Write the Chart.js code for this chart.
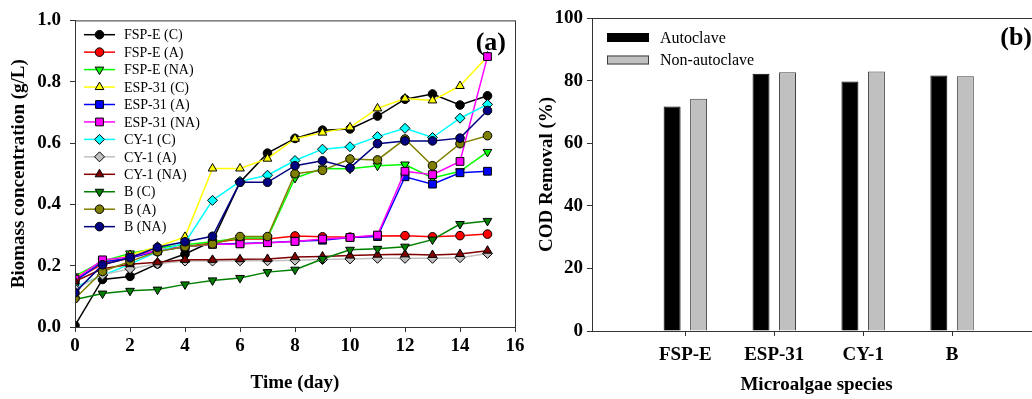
<!DOCTYPE html>
<html>
<head>
<meta charset="utf-8">
<script src="https://cdn.jsdelivr.net/npm/chart.js@4/dist/chart.umd.min.js"></script>
<style>
  html, body { margin: 0; padding: 0; background: #fff; overflow: hidden; }
  body { width: 1032px; height: 399px; position: relative; }
  #growth { position: absolute; left: 0; top: 0; }
  #cod { position: absolute; left: 530px; top: 0; }
</style>
</head>
<body>
<canvas id="growth" width="540" height="399"></canvas>
<canvas id="cod" width="520" height="399"></canvas>
<script>
// ---- data ----
var days = [0, 1, 2, 3, 4, 5, 6, 7, 8, 9, 10, 11, 12, 13, 14, 15];

var fspeC   = [0.005, 0.155, 0.165, 0.206, 0.238, 0.28, 0.472, 0.567, 0.615, 0.642, 0.646, 0.688, 0.743, 0.76, 0.724, 0.754];
var fspeA   = [0.155, 0.205, 0.225, 0.25, 0.262, 0.275, 0.287, 0.287, 0.297, 0.294, 0.293, 0.297, 0.298, 0.294, 0.298, 0.303];
var fspeNA  = [0.165, 0.215, 0.24, 0.258, 0.268, 0.278, 0.29, 0.29, 0.486, 0.517, 0.516, 0.526, 0.53, 0.486, 0.508, 0.571];
var esp31C  = [0.162, 0.21, 0.235, 0.262, 0.294, 0.517, 0.517, 0.549, 0.614, 0.634, 0.651, 0.713, 0.745, 0.739, 0.786, 0.882];
var esp31A  = [0.15, 0.212, 0.225, 0.248, 0.262, 0.27, 0.272, 0.275, 0.28, 0.283, 0.292, 0.295, 0.49, 0.466, 0.503, 0.508];
var esp31NA = [0.156, 0.219, 0.228, 0.25, 0.262, 0.27, 0.271, 0.275, 0.279, 0.287, 0.292, 0.3, 0.508, 0.497, 0.54, 0.882];
var cy1C    = [0.13, 0.168, 0.205, 0.245, 0.275, 0.413, 0.475, 0.495, 0.543, 0.58, 0.588, 0.621, 0.648, 0.618, 0.681, 0.726];
var cy1A    = [0.125, 0.17, 0.19, 0.206, 0.215, 0.215, 0.216, 0.216, 0.218, 0.22, 0.222, 0.224, 0.224, 0.224, 0.226, 0.24];
var cy1NA   = [0.149, 0.19, 0.205, 0.211, 0.219, 0.219, 0.221, 0.222, 0.228, 0.23, 0.233, 0.236, 0.237, 0.235, 0.238, 0.249];
var bC      = [0.09, 0.109, 0.118, 0.122, 0.139, 0.152, 0.16, 0.179, 0.187, 0.222, 0.252, 0.255, 0.262, 0.285, 0.336, 0.346];
var bA      = [0.093, 0.181, 0.214, 0.246, 0.262, 0.271, 0.295, 0.295, 0.5, 0.511, 0.548, 0.545, 0.613, 0.526, 0.598, 0.624];
var bNA     = [0.112, 0.203, 0.226, 0.26, 0.278, 0.296, 0.472, 0.472, 0.526, 0.542, 0.519, 0.598, 0.607, 0.607, 0.616, 0.706];

var xTicks = [0, 2, 4, 6, 8, 10, 12, 14, 16];
var yTicks = [0, 0.2, 0.4, 0.6, 0.8, 1.0];

var species = ['FSP-E', 'ESP-31', 'CY-1', 'B'];
var autoclave = [71.7, 82.2, 79.7, 81.6];
var nonAutoclave = [74.2, 82.7, 82.9, 81.4];
var codTicks = [0, 20, 40, 60, 80, 100];

// ---- look ----
var serif = '"Liberation Serif", "Times New Roman", serif';
Chart.defaults.font.family = serif;
Chart.defaults.color = '#000';
var axisColor = '#333';
var tickFont = { size: 19, weight: 'bold' };
var titleFont = { size: 19, weight: 'bold' };

var series = [
  { label: 'FSP-E (C)',   data: fspeC,   color: '#000000', style: 'circle',   rot: 0,   r: 4.3 },
  { label: 'FSP-E (A)',   data: fspeA,   color: '#ff0000', style: 'circle',   rot: 0,   r: 4.3 },
  { label: 'FSP-E (NA)',  data: fspeNA,  color: '#00ff00', style: 'triangle', rot: 180, r: 5 },
  { label: 'ESP-31 (C)',  data: esp31C,  color: '#ffff00', style: 'triangle', rot: 0,   r: 5 },
  { label: 'ESP-31 (A)',  data: esp31A,  color: '#0000ff', style: 'rect',     rot: 0,   r: 5.5 },
  { label: 'ESP-31 (NA)', data: esp31NA, color: '#ff00ff', style: 'rect',     rot: 0,   r: 5.5 },
  { label: 'CY-1 (C)',    data: cy1C,    color: '#00ffff', style: 'rectRot',  rot: 0,   r: 5 },
  { label: 'CY-1 (A)',    data: cy1A,    color: '#c0c0c0', style: 'rectRot',  rot: 0,   r: 5 },
  { label: 'CY-1 (NA)',   data: cy1NA,   color: '#800000', style: 'triangle', rot: 0,   r: 5 },
  { label: 'B (C)',       data: bC,      color: '#008000', style: 'triangle', rot: 180, r: 5 },
  { label: 'B (A)',       data: bA,      color: '#808000', style: 'circle',   rot: 0,   r: 4.3 },
  { label: 'B (NA)',      data: bNA,     color: '#000080', style: 'circle',   rot: 0,   r: 4.3 }
];

function drawMarker(ctx, s, x, y) {
  ctx.fillStyle = s.color;
  ctx.strokeStyle = '#000';
  ctx.lineWidth = 1;
  if (Chart.helpers && Chart.helpers.drawPoint) {
    Chart.helpers.drawPoint(ctx, { pointStyle: s.style, rotation: s.rot, radius: s.r, borderWidth: 1 }, x, y);
  } else {
    ctx.beginPath();
    ctx.arc(x, y, s.r, 0, Math.PI * 2);
    ctx.fill();
    ctx.stroke();
  }
}

// frame round the plot area
var framePlugin = {
  id: 'frame',
  afterDraw: function (chart) {
    var a = chart.chartArea, ctx = chart.ctx;
    ctx.save();
    ctx.strokeStyle = axisColor;
    ctx.lineWidth = 1;
    ctx.strokeRect(a.left + 0.5, a.top + 0.5, a.right - a.left, a.bottom - a.top);
    ctx.restore();
  }
};

// (a) / (b)
var panelLabel = {
  id: 'panelLabel',
  afterDraw: function (chart, args, opts) {
    var a = chart.chartArea, ctx = chart.ctx;
    ctx.save();
    ctx.font = 'bold 26px ' + serif;
    ctx.fillStyle = '#000';
    ctx.textAlign = 'right';
    ctx.textBaseline = 'middle';
    ctx.fillText(opts.text, a.right - 9, a.top + opts.dy);
    ctx.restore();
  }
};

// legend with line + marker inside the plot
var lineLegend = {
  id: 'lineLegend',
  afterDraw: function (chart) {
    var a = chart.chartArea, ctx = chart.ctx;
    ctx.save();
    series.forEach(function (s, i) {
      var y = a.top + 14.3 + i * 17.45;
      ctx.strokeStyle = s.color;
      ctx.lineWidth = 1.5;
      ctx.beginPath();
      ctx.moveTo(a.left + 9, y);
      ctx.lineTo(a.left + 40, y);
      ctx.stroke();
      drawMarker(ctx, s, a.left + 24.5, y);
      ctx.fillStyle = '#000';
      ctx.font = '14px ' + serif;
      ctx.textAlign = 'left';
      ctx.textBaseline = 'middle';
      ctx.fillText(s.label, a.left + 49, y + 1);
    });
    ctx.restore();
  }
};

// box legend for the bars
var boxLegend = {
  id: 'boxLegend',
  afterDraw: function (chart) {
    var a = chart.chartArea, ctx = chart.ctx;
    ctx.save();
    chart.data.datasets.forEach(function (ds, i) {
      var y = a.top + 19.5 + i * 22.5;
      ctx.fillStyle = ds.backgroundColor;
      ctx.strokeStyle = ds.borderColor;
      ctx.lineWidth = 1;
      ctx.fillRect(a.left + 15, y - 4.5, 42, 9);
      ctx.strokeRect(a.left + 15.5, y - 4, 41, 8);
      ctx.fillStyle = '#000';
      ctx.font = '16px ' + serif;
      ctx.textAlign = 'left';
      ctx.textBaseline = 'middle';
      ctx.fillText(ds.label, a.left + 68, y + 1);
    });
    ctx.restore();
  }
};

// ---- left panel: biomass ----
var lineSets = series.map(function (s, i) {
  return {
    label: s.label,
    data: days.map(function (d, j) { return { x: d, y: s.data[j] }; }),
    borderColor: s.color,
    backgroundColor: s.color,
    borderWidth: 1.5,
    pointStyle: s.style,
    pointRotation: s.rot,
    pointRadius: s.r,
    pointBackgroundColor: s.color,
    pointBorderColor: '#000',
    pointBorderWidth: 1,
    tension: 0,
    order: series.length - i
  };
});

new Chart(document.getElementById('growth'), {
  type: 'line',
  data: { datasets: lineSets },
  options: {
    responsive: false,
    animation: false,
    layout: { padding: { top: 18, right: 25, left: 0, bottom: 0 } },
    plugins: {
      legend: { display: false },
      tooltip: { enabled: false },
      panelLabel: { text: '(a)', dy: 23 }
    },
    scales: {
      x: {
        type: 'linear',
        min: xTicks[0],
        max: xTicks[xTicks.length - 1],
        afterBuildTicks: function (scale) { scale.ticks = xTicks.map(function (v) { return { value: v }; }); },
        afterFit: function (scale) { scale.height = 72; },
        grid: { drawOnChartArea: false, tickLength: 5, color: axisColor },
        border: { color: axisColor },
        ticks: { padding: 3, font: tickFont, color: '#000', maxRotation: 0 },
        title: { display: true, text: 'Time (day)', font: titleFont, padding: { top: 0, bottom: 5 } }
      },
      y: {
        type: 'linear',
        min: 0,
        max: 1,
        afterBuildTicks: function (scale) { scale.ticks = yTicks.map(function (v) { return { value: v }; }); },
        afterFit: function (scale) { scale.width = 75; },
        grid: { drawOnChartArea: false, tickLength: 5, color: axisColor },
        border: { color: axisColor },
        ticks: { padding: 9, font: tickFont, color: '#000', callback: function (v) { return v.toFixed(1); } },
        title: { display: true, text: 'Biomass concentration (g/L)', font: titleFont, padding: { top: 8, bottom: 0 } }
      }
    }
  },
  plugins: [framePlugin, lineLegend, panelLabel]
});

// ---- right panel: COD removal ----
new Chart(document.getElementById('cod'), {
  type: 'bar',
  data: {
    datasets: [{
      label: 'Autoclave',
      data: species.map(function (s, i) { return { x: i + 1, y: autoclave[i] }; }),
      backgroundColor: '#000000',
      borderColor: '#000000',
      borderWidth: 1
    }, {
      label: 'Non-autoclave',
      data: species.map(function (s, i) { return { x: i + 1, y: nonAutoclave[i] }; }),
      backgroundColor: '#c0c0c0',
      borderColor: '#404040',
      borderWidth: 1
    }]
  },
  options: {
    responsive: false,
    animation: false,
    categoryPercentage: 0.596,
    barPercentage: 0.64,
    layout: { padding: { top: 18, right: 9, left: 0, bottom: 0 } },
    plugins: {
      legend: { display: false },
      tooltip: { enabled: false },
      panelLabel: { text: '(b)', dy: 20 }
    },
    scales: {
      x: {
        type: 'linear',
        offset: false,
        min: -0.05,
        max: 5,
        afterBuildTicks: function (scale) { scale.ticks = species.map(function (s, i) { return { value: i + 1 }; }); },
        afterFit: function (scale) { scale.height = 68; },
        grid: { offset: false, drawOnChartArea: false, tickLength: 5, color: axisColor },
        border: { color: axisColor },
        ticks: { padding: 8, font: tickFont, color: '#000', maxRotation: 0,
                 callback: function (v) { return species[v - 1] || ''; } },
        title: { display: true, text: 'Microalgae species', font: titleFont, padding: { top: 0, bottom: 3 } }
      },
      y: {
        type: 'linear',
        min: 0,
        max: 100,
        afterBuildTicks: function (scale) { scale.ticks = codTicks.map(function (v) { return { value: v }; }); },
        afterFit: function (scale) { scale.width = 62; },
        grid: { drawOnChartArea: false, tickLength: 5, color: axisColor },
        border: { color: axisColor },
        ticks: { padding: 4, font: tickFont, color: '#000' },
        title: { display: true, text: 'COD Removal (%)', font: titleFont, padding: { top: 6, bottom: 0 } }
      }
    }
  },
  plugins: [framePlugin, boxLegend, panelLabel]
});
</script>
</body>
</html>
